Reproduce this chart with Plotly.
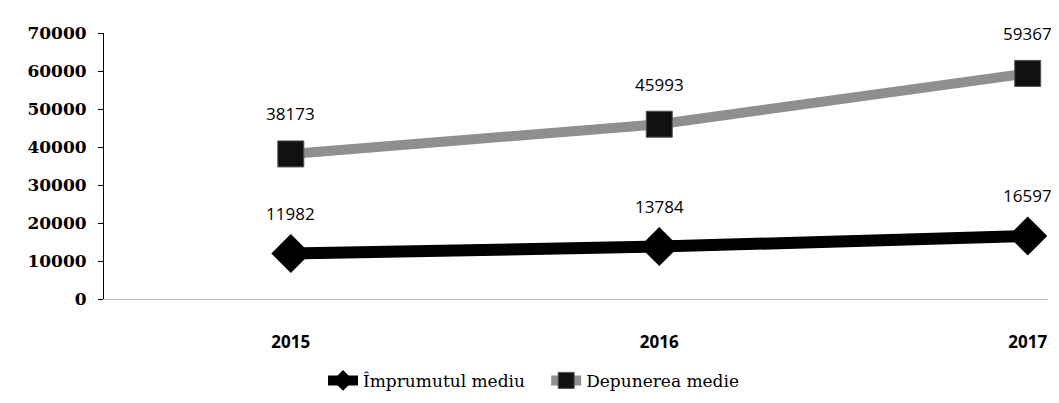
import plotly.graph_objects as go

years = ['2015', '2016', '2017']
imprumut = [11982, 13784, 16597]
depunere = [38173, 45993, 59367]
y_ticks = [0, 10000, 20000, 30000, 40000, 50000, 60000, 70000]

fig = go.Figure()
fig.add_trace(go.Scatter(
    x=years, y=imprumut, name='Împrumutul mediu   ', mode='lines+markers',
    line=dict(color='black', width=12),
    marker=dict(symbol='diamond', size=30, color='black'),
))
fig.add_trace(go.Scatter(
    x=years, y=depunere, name='Depunerea medie', mode='lines+markers',
    line=dict(color='#8f8f8f', width=10),
    marker=dict(symbol='square', size=26, color='#111111',
                line=dict(color='#555555', width=1)),
))

# value labels above the markers (x by category index)
for ys in (imprumut, depunere):
    for i, y in enumerate(ys):
        fig.add_annotation(x=i, y=y, xref='x', yref='y', text=str(y),
                           showarrow=False, yshift=40,
                           font=dict(size=17, color='black', family='Open Sans'))

fig.update_layout(
    width=1059, height=403,
    margin=dict(l=96, r=19, t=25, b=106),
    plot_bgcolor='white', paper_bgcolor='white',
    showlegend=True,
    legend=dict(orientation='h', x=0.455, xanchor='center', y=-0.24,
                yanchor='top', font=dict(size=17, family='DejaVu Serif',
                                         color='black')),
    font=dict(family='DejaVu Sans', color='black'),
)
fig.update_xaxes(
    type='category', range=[-0.507, 2.055],
    showline=True, linecolor='#bbbbbb', linewidth=1,
    showgrid=False, ticks='', ticklabelstandoff=28,
    tickfont=dict(size=17, family='Open Sans', weight='bold'),
)
fig.update_yaxes(
    range=[0, 70000], tickvals=y_ticks, tickformat='d',
    showline=True, linecolor='black', linewidth=1,
    ticks='outside', ticklen=5, tickcolor='black',
    showgrid=False, zeroline=False, ticklabelstandoff=8,
    tickfont=dict(size=17, family='DejaVu Serif', weight='bold'),
)

fig.write_html("out.html")
